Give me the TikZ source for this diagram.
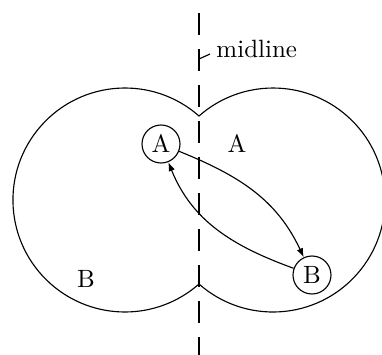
\documentclass[tikz,border=0pt]{standalone}
\usepackage{tikz}
\usetikzlibrary{arrows.meta}
\tikzset{
    statenode/.style={circle,draw,inner sep=0pt,minimum size=15.2pt,line width=0.45pt},
    regionlabel/.style={inner sep=0pt},
    regionline/.style={line width=0.45pt},
    midlinestyle/.style={line width=0.45pt,dash pattern=on 8.8pt off 5.6pt},
    moveline/.style={-{Latex[length=3.6pt,width=2.6pt]},line width=0.45pt}
}
\begin{document}
\begin{tikzpicture}[x=0.4pt,y=0.4pt]
        \useasboundingbox (0,0) rectangle (382,355);
        % two regions
        \draw[regionline] (199,239) arc[start angle=48.6,end angle=311.4,radius=44.8pt]
            arc[start angle=-131.4,end angle=131.4,radius=44.8pt] -- cycle;
        % midline
        \coordinate (midtop) at (199,342);
        \coordinate (midbot) at (199,0);
        \draw[midlinestyle] (midtop) -- (midbot);
        \node[regionlabel,anchor=base west] (midlabel) at (216,298) {midline};
        \coordinate (tickstart) at (199,296);
        \coordinate (tickend) at (210,301);
        \draw[regionline] (tickstart) -- (tickend);
        % labels and states
        \node[regionlabel] (regA) at (237,211) {A};
        \node[regionlabel] (regB) at (86,76) {B};
        \node[statenode] (stA) at (161,211) {A};
        \node[statenode] (stB) at (312,80) {B};
        \draw[moveline] (stA) to[out=-22,in=115] (stB);
        \draw[moveline] (stB) to[out=160,in=-68] (stA);
    \end{tikzpicture}
\end{document}
